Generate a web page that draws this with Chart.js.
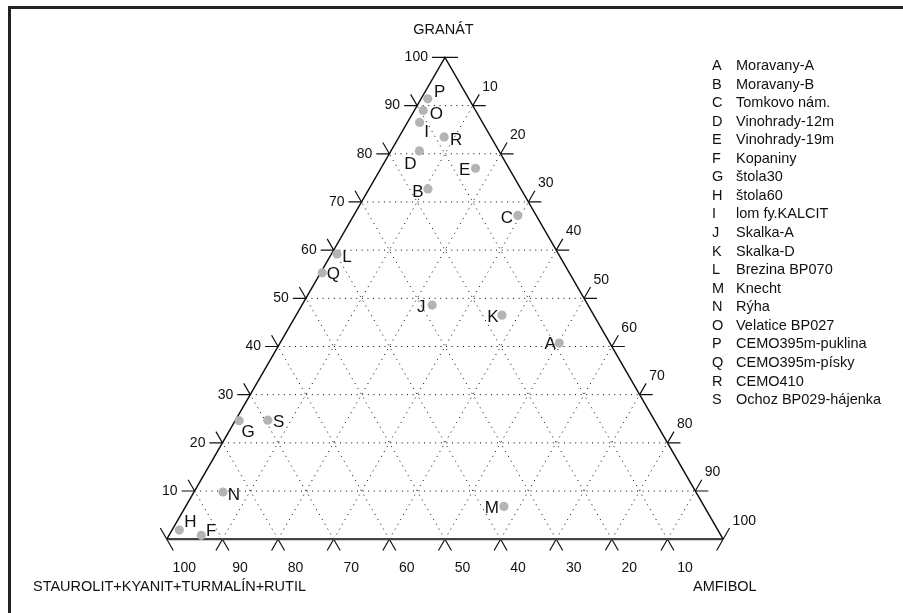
<!DOCTYPE html>
<html>
<head>
<meta charset="utf-8">
<script src="https://cdn.jsdelivr.net/npm/chart.js@4/dist/chart.umd.min.js"></script>
<style>
html, body { margin: 0; padding: 0; background: #fff; }
#wrap { position: relative; width: 903px; height: 613px; }
</style>
</head>
<body>
<div id="wrap"><canvas id="myChart"></canvas></div>
<script>
// samples
var letters = ['A','B','C','D','E','F','G','H','I','J','K','L','M','N','O','P','Q','R','S'];
var names = ['Moravany-A','Moravany-B','Tomkovo nám.','Vinohrady-12m','Vinohrady-19m','Kopaniny',
    'štola30','štola60','lom fy.KALCIT','Skalka-A','Skalka-D','Brezina BP070','Knecht','Rýha',
    'Velatice BP027','CEMO395m-puklina','CEMO395m-písky','CEMO410','Ochoz BP029-hájenka'];

// composition in % (granát / amfibol / staurolit+kyanit+turmalín+rutil)
var granat    = [40.7, 72.7, 67.2, 80.6, 77.0,  0.8, 24.6,  1.9, 86.5, 48.6, 46.5, 59.2,  6.8,  9.8, 89.0, 91.4, 55.3, 83.5, 24.7];
var amfibol   = [50.2, 10.6, 29.5,  5.1, 17.0,  5.8,  0.7,  1.3,  2.2, 23.4, 37.0,  1.0, 57.2,  5.2,  1.6,  1.2,  0.3,  8.1,  5.8];
var staurolit = [ 9.1, 16.7,  3.3, 14.3,  6.0, 93.4, 74.7, 96.8, 11.3, 28.0, 16.5, 39.8, 36.0, 85.0,  9.4,  7.4, 44.4,  8.4, 69.5];

// axis ticks
var gridSteps = [10, 20, 30, 40, 50, 60, 70, 80, 90];
var tickSteps = [0, 10, 20, 30, 40, 50, 60, 70, 80, 90, 100];
var tickLabels = [10, 20, 30, 40, 50, 60, 70, 80, 90, 100];

// label offsets (px) of the sample letters
var labelDx = [-9, -10, -11, -9, -11, 10, 9, 11, 7, -11, -9, 10, -12, 11, 13, 12, 11, 12, 11];
var labelDy = [ 0,   2,   2, 12,   1, -5, 11, -9, 9,   1,  1,  2,   1,  2,  3, -8,  1,  2,  1];

var H = Math.sqrt(3) / 2;
// layout of triangle on the canvas
var W = 903, HT = 613, OX = 166.8, OY = 539.2, K = 5.563;
var TL = 13 / K; // tick length in data units

// ternary -> cartesian (left vertex = 100 % staurolit)
function pt(g, a) { return { x: a + g / 2, y: g * H }; }
function gap() { return { x: NaN, y: NaN }; }

var points = letters.map(function (l, i) {
    var t = granat[i] + amfibol[i] + staurolit[i];
    return pt(granat[i] * 100 / t, amfibol[i] * 100 / t);
});

var grid = [];
gridSteps.forEach(function (v) {
    grid.push(pt(v, 0), pt(v, 100 - v), gap());
    grid.push(pt(0, v), pt(100 - v, v), gap());
    grid.push(pt(0, 100 - v), pt(100 - v, 0), gap());
});

function add(p, dx, dy) { return { x: p.x + dx * TL, y: p.y + dy * TL }; }
var ticks = [];
tickSteps.forEach(function (v) {
    var p = pt(v, 0); // left side, granát
    if (v !== 0) ticks.push(p, add(p, -1, 0), gap());
    if (v !== 100) ticks.push(p, add(p, -0.5, H), gap());
    p = pt(100 - v, v); // right side, amfibol
    if (v !== 100) ticks.push(p, add(p, 1, 0), gap());
    if (v !== 0) ticks.push(p, add(p, 0.5, H), gap());
    p = pt(0, 100 - v); // bottom, staurolit
    if (v !== 100) ticks.push(p, add(p, -0.5, -H), gap());
    if (v !== 0) ticks.push(p, add(p, 0.5, -H), gap());
});

var sides = [pt(0, 0), pt(100, 0), pt(0, 100)];
var base = [pt(0, 0), pt(0, 100)];

var FONT = '"Liberation Sans", Arial, sans-serif';

var textPlugin = {
    id: 'ternaryText',
    beforeDraw: function (chart) {
        var c = chart.ctx;
        c.save();
        c.fillStyle = '#222';
        c.fillRect(8, 6, 3, HT);
        c.fillRect(8, 6, W, 3);
        c.restore();
    },
    afterDatasetsDraw: function (chart) {
        var c = chart.ctx, xs = chart.scales.x, ys = chart.scales.y;
        function px(p) { return { x: xs.getPixelForValue(p.x), y: ys.getPixelForValue(p.y) }; }
        c.save();
        c.fillStyle = '#111';
        c.font = '14px ' + FONT;
        c.textBaseline = 'middle';

        tickLabels.forEach(function (v) {
            var p = px(pt(v, 0));
            c.textAlign = 'right';
            c.fillText(String(v), p.x - 17, p.y);
            p = px(pt(100 - v, v));
            c.textAlign = 'left';
            c.fillText(String(v), p.x + 9.5, p.y - 18.5);
            p = px(pt(0, 100 - v));
            c.textAlign = 'center';
            c.fillText(String(v), p.x + 17.5, 568);
        });

        c.font = '14.5px ' + FONT;
        c.textAlign = 'center';
        c.fillText('GRANÁT', 443.5, 30);
        c.textAlign = 'left';
        c.fillText('STAUROLIT+KYANIT+TURMALÍN+RUTIL', 33, 587);
        c.fillText('AMFIBOL', 693, 587);

        letters.forEach(function (l, i) {
            var y = 66 + i * 18.56;
            c.fillText(l, 712, y);
            c.fillText(names[i], 736, y);
        });

        c.font = '17px ' + FONT;
        c.textAlign = 'center';
        points.forEach(function (p, i) {
            var q = px(p);
            c.fillText(letters[i], q.x + labelDx[i], q.y + labelDy[i] + 1);
        });
        c.restore();
    }
};

var ctx = document.getElementById('myChart').getContext('2d');
var chart = new Chart(ctx, {
    type: 'scatter',
    data: {
        datasets: [{
            data: points,
            backgroundColor: '#b4b4b4',
            borderWidth: 0,
            pointRadius: 4.6,
            order: 0
        }, {
            data: sides,
            showLine: true,
            borderColor: '#111',
            borderWidth: 1.5,
            pointRadius: 0,
            order: 1
        }, {
            data: base,
            showLine: true,
            borderColor: '#444',
            borderWidth: 2.2,
            pointRadius: 0,
            order: 2
        }, {
            data: ticks,
            showLine: true,
            borderColor: '#111',
            borderWidth: 1.2,
            pointRadius: 0,
            order: 3
        }, {
            data: grid,
            showLine: true,
            borderColor: '#000',
            borderWidth: 1,
            borderDash: [1, 4.6],
            pointRadius: 0,
            order: 4
        }]
    },
    options: {
        responsive: true,
        maintainAspectRatio: false,
        animation: false,
        layout: { autoPadding: false, padding: 0 },
        plugins: { legend: { display: false }, tooltip: { enabled: false } },
        scales: {
            x: { type: 'linear', display: false, min: -OX / K, max: (W - OX) / K },
            y: { type: 'linear', display: false, min: -(HT - OY) / K, max: OY / K }
        }
    },
    plugins: [textPlugin]
});
</script>
</body>
</html>
